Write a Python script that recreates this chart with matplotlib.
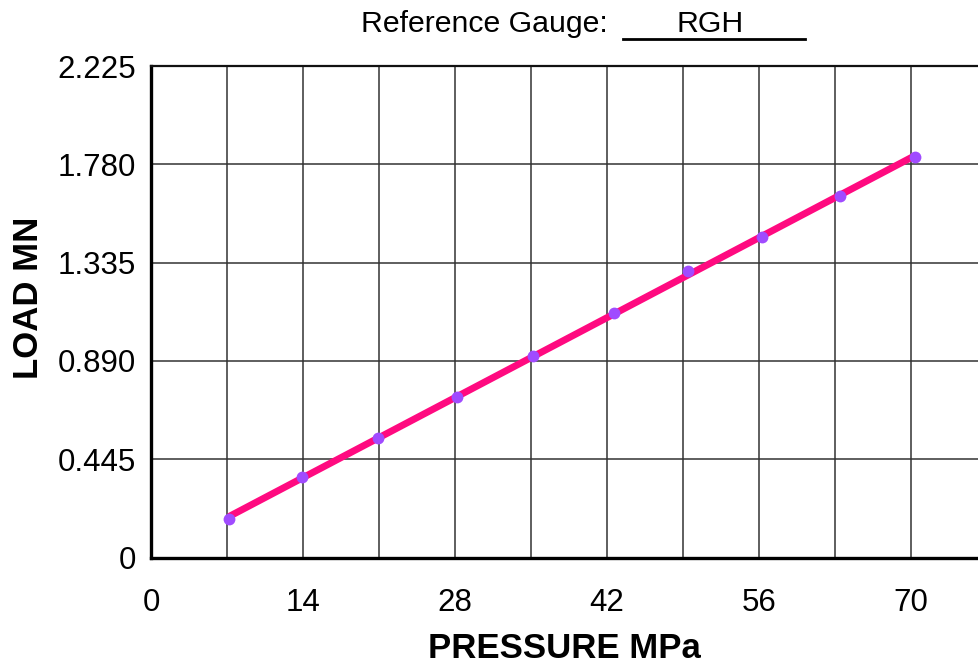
"""
Load vs pressure calibration chart for reference gauge RGH.
Output: out.png
"""

import numpy as np
import matplotlib
matplotlib.use("Agg")
import matplotlib.pyplot as plt
from matplotlib.lines import Line2D

plt.rcParams["font.family"] = ["Liberation Sans", "DejaVu Sans"]

# readings taken off the calibration sheet
PRESSURE_MPA = [7.2, 13.9, 20.9, 28.2, 35.2, 42.6, 49.5, 56.3, 63.5, 70.4]
LOAD_MN      = [0.173, 0.366, 0.541, 0.726, 0.912, 1.107, 1.296, 1.451, 1.638, 1.812]

X_TICKS = [0, 14, 28, 42, 56, 70]
X_GRID  = [7, 21, 35, 49, 63, 77]
Y_TICKS = [0, 0.445, 0.890, 1.335, 1.780, 2.225]
Y_TICK_LABELS = ["0", "0.445", "0.890", "1.335", "1.780", "2.225"]

GAUGE = "RGH"

W, H = 979, 666


def main():
    fig = plt.figure(figsize=(W / 100, H / 100), dpi=100)
    ax = fig.add_axes([151 / W, 108.5 / H, 836 / W, 491.5 / H])

    x = np.array(PRESSURE_MPA)
    y = np.array(LOAD_MN)

    # straight-line trend through the readings
    slope, icpt = np.polyfit(x, y, 1)
    xf = np.array([x.min(), x.max()])
    ax.plot(xf, slope * xf + icpt, color="#FF0A80", linewidth=5.0,
            solid_capstyle="butt", zorder=3)
    ax.plot(x, y, linestyle="none", marker="o", markersize=8.5,
            color="#A04BFF", markeredgewidth=0, zorder=4)

    ax.set_xlim(0, 77)
    ax.set_ylim(0, 2.225)
    ax.set_xticks(X_TICKS)
    ax.set_yticks(Y_TICKS)
    ax.set_yticklabels(Y_TICK_LABELS)
    ax.set_xticks(X_GRID, minor=True)

    ax.grid(True, which="both", color="#333333", linewidth=1.1)
    ax.set_axisbelow(True)
    ax.tick_params(which="both", length=0)
    ax.tick_params(axis="y", labelsize=22.5, pad=11)
    ax.tick_params(axis="x", labelsize=22.5, pad=22)

    for side in ["left", "bottom"]:
        ax.spines[side].set_linewidth(2.4)
        ax.spines[side].set_color("black")
    ax.spines["top"].set_linewidth(1.6)
    ax.spines["top"].set_color("#111111")
    ax.spines["right"].set_visible(False)

    fig.text(564 / W, 1 - 649 / H, "PRESSURE MPa", fontsize=25,
             fontweight="bold", ha="center", va="center")
    fig.text(28 / W, 1 - 298 / H, "LOAD MN", fontsize=25,
             fontweight="bold", ha="center", va="center", rotation=90)

    # header: "Reference Gauge: ___RGH___"
    fig.text(608 / W, 1 - 24 / H, "Reference Gauge:", fontsize=21.8,
             ha="right", va="center")
    fig.text(710 / W, 1 - 24 / H, GAUGE, fontsize=21.8,
             ha="center", va="center")
    fig.add_artist(Line2D([623 / W, 805 / W], [1 - 39 / H, 1 - 39 / H],
                          transform=fig.transFigure, color="black",
                          linewidth=2.0))

    fig.savefig("out.png", dpi=100)
    plt.close(fig)


if __name__ == "__main__":
    main()
